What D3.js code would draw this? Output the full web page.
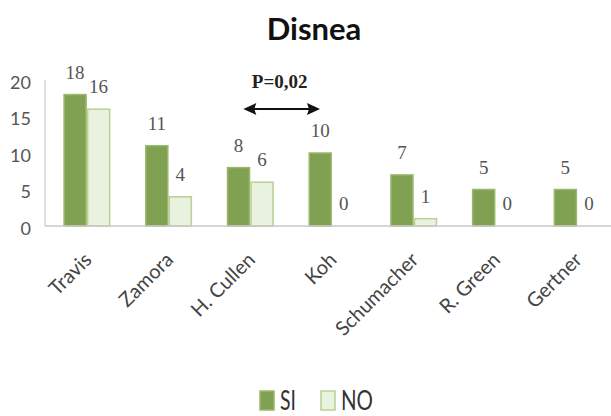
<!DOCTYPE html>
<html>
<head>
<meta charset="utf-8">
<script src="https://cdn.jsdelivr.net/npm/d3@7"></script>
<style>
  html, body { margin: 0; padding: 0; background: #fff; }
  svg { display: block; }
</style>
</head>
<body>
<script>
// Disnea: number of patients with / without dyspnea per study
const categories = ["Travis", "Zamora", "H. Cullen", "Koh", "Schumacher", "R. Green", "Gertner"];
const seriesNames = ["SI", "NO"];
const siValues = [18, 11, 8, 10, 7, 5, 5];
const noValues = [16, 4, 6, 0, 1, 0, 0];
const yTicks = [0, 5, 10, 15, 20];
const title = "Disnea";
const pLabel = "P=0,02";
const pPair = ["H. Cullen", "Koh"];

const W = 611, H = 416;
const margin = { left: 46, right: -7, top: 80, bottom: 190 };
const colors = {
  SI: { fill: "#80a052", stroke: "#9ab96c" },
  NO: { fill: "#e9f1df", stroke: "#b9d096" }
};

const svg = d3.select("body").append("svg").attr("width", W).attr("height", H);

const x0 = d3.scaleBand()
  .domain(categories)
  .range([margin.left, W - margin.right])
  .paddingInner(0.424)
  .paddingOuter(0.212);

const x1 = d3.scaleBand()
  .domain(seriesNames)
  .range([0, x0.bandwidth()]);

const y = d3.scaleLinear()
  .domain([0, 20])
  .range([H - margin.bottom, margin.top]);

// title
svg.append("text")
  .attr("x", 314).attr("y", 40)
  .attr("text-anchor", "middle")
  .style("font-family", "Lato, 'Open Sans', sans-serif")
  .style("font-weight", "bold")
  .style("font-size", "31px")
  .style("fill", "#111")
  .text(title);

// y axis: labels only, plus thin vertical line
const yAxis = d3.axisLeft(y).tickValues(yTicks).tickSize(0).tickPadding(14);
const gy = svg.append("g")
  .attr("transform", `translate(${margin.left - 1},0)`)
  .call(yAxis);
gy.select(".domain").remove();
gy.selectAll("text")
  .attr("dy", "0.45em")
  .style("font-family", "Lato, sans-serif")
  .style("font-size", "18px")
  .style("fill", "#555");
svg.append("line")
  .attr("x1", margin.left - 1).attr("x2", margin.left - 1)
  .attr("y1", y(20)).attr("y2", y(0))
  .attr("stroke", "#d9d9d9").attr("stroke-width", 1.5);

// bars
const rows = categories.map((c, i) => ({ cat: c, values: [
  { key: "SI", value: siValues[i] },
  { key: "NO", value: noValues[i] }
]}));

const groups = svg.append("g").selectAll("g")
  .data(rows).join("g")
  .attr("transform", d => `translate(${x0(d.cat)},0)`);

groups.selectAll("rect")
  .data(d => d.values.filter(v => v.value > 0))
  .join("rect")
  .attr("x", d => x1(d.key) + 0.75)
  .attr("width", x1.bandwidth() - 1.5)
  .attr("y", d => y(d.value))
  .attr("height", d => y(0) - y(d.value))
  .attr("fill", d => colors[d.key].fill)
  .attr("stroke", d => colors[d.key].stroke)
  .attr("stroke-width", 1.5);

// value labels
groups.selectAll("text.val")
  .data(d => d.values)
  .join("text")
  .attr("class", "val")
  .attr("x", d => x1(d.key) + x1.bandwidth() / 2)
  .attr("y", d => y(d.value) - 16)
  .attr("text-anchor", "middle")
  .style("font-family", "'Liberation Serif', serif")
  .style("font-size", "19px")
  .style("fill", "#555")
  .text(d => d.value);

// baseline
svg.append("line")
  .attr("x1", margin.left - 1).attr("x2", W)
  .attr("y1", y(0)).attr("y2", y(0))
  .attr("stroke", "#c8c8c8").attr("stroke-width", 1.5);

// category labels
svg.append("g").selectAll("text")
  .data(categories).join("text")
  .attr("transform", d => `translate(${x0(d) + x0.bandwidth() / 2 + 6},${y(0) + 35}) rotate(-45)`)
  .attr("text-anchor", "end")
  .style("font-family", "Lato, sans-serif")
  .style("font-size", "20px")
  .style("fill", "#444")
  .text(d => d);

// significance annotation between two studies
const ax1 = x0(pPair[0]) + x0.bandwidth() / 2 - 7;
const ax2 = x0(pPair[1]) + x0.bandwidth() / 2 - 12;
const ay = 109;
svg.append("text")
  .attr("x", (ax1 + ax2) / 2 - 2).attr("y", 88)
  .attr("text-anchor", "middle")
  .style("font-family", "'Liberation Serif', serif")
  .style("font-weight", "bold")
  .style("font-size", "19px")
  .style("fill", "#222")
  .text(pLabel);
svg.append("line")
  .attr("x1", ax1 + 10).attr("x2", ax2 - 10)
  .attr("y1", ay).attr("y2", ay)
  .attr("stroke", "#111").attr("stroke-width", 2.2);
svg.append("path")
  .attr("d", `M${ax1},${ay} L${ax1 + 13},${ay - 6} L${ax1 + 11},${ay} L${ax1 + 13},${ay + 6} Z`)
  .attr("fill", "#111");
svg.append("path")
  .attr("d", `M${ax2},${ay} L${ax2 - 13},${ay - 6} L${ax2 - 11},${ay} L${ax2 - 13},${ay + 6} Z`)
  .attr("fill", "#111");

// legend
const legend = svg.append("g").attr("transform", "translate(260,391)");
const legendX = { SI: 0, NO: 61 };
seriesNames.forEach(k => {
  const g = legend.append("g").attr("transform", `translate(${legendX[k]},0)`);
  g.append("rect")
    .attr("width", 14).attr("height", 19)
    .attr("fill", colors[k].fill)
    .attr("stroke", colors[k].stroke)
    .attr("stroke-width", 1.5);
  g.append("text")
    .attr("x", 20).attr("y", 19)
    .style("font-family", "Lato, sans-serif")
    .style("font-size", "26px")
    .style("fill", "#333")
    .attr("textLength", k === "SI" ? 16 : 32)
    .attr("lengthAdjust", "spacingAndGlyphs")
    .text(k);
});
</script>
</body>
</html>
